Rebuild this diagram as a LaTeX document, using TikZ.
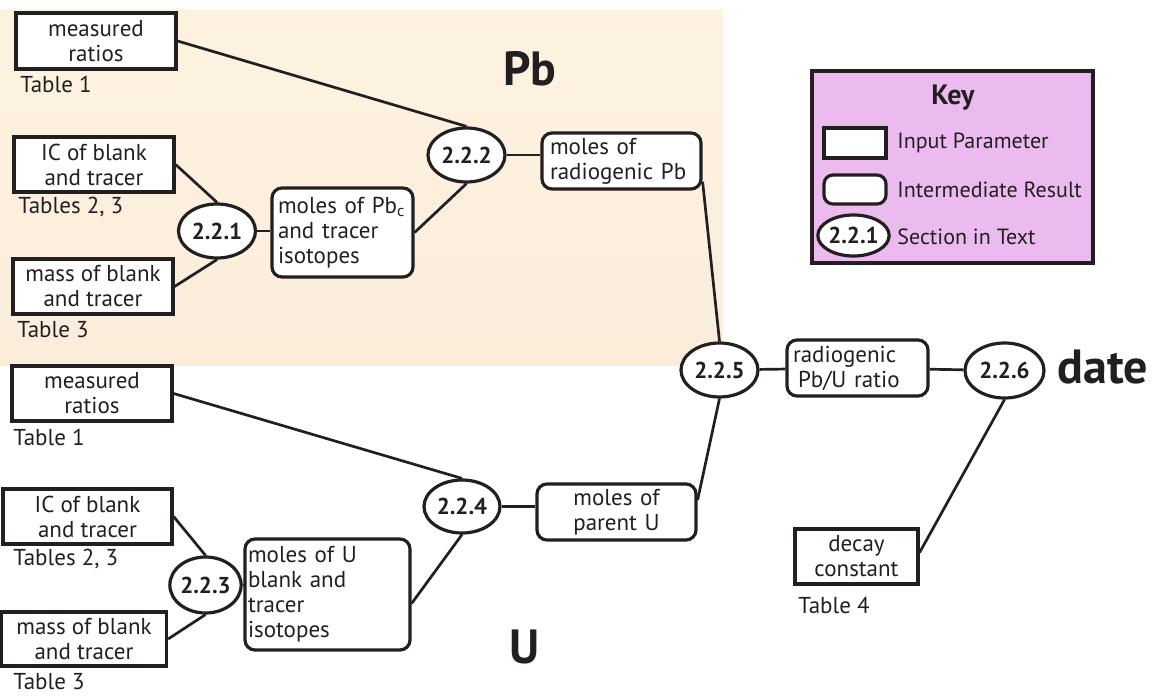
\documentclass[tikz,border=0pt]{standalone}
\usepackage{fontspec}
\setmainfont{PT Sans}
\usetikzlibrary{shapes.geometric,calc}

\definecolor{ink}{RGB}{35,31,32}
\definecolor{pbtop}{RGB}{253,242,224}
\definecolor{pbmid}{RGB}{249,224,215}
\definecolor{pbbot}{RGB}{252,237,219}
\definecolor{keyfill}{RGB}{235,186,239}

\begin{document}
\begin{tikzpicture}[x=0.5pt,y=-0.5pt,
  every node/.style={text=ink, font=\fontsize{11.5}{12.5}\selectfont},
  inbox/.style={draw=ink, line width=1.6pt, fill=white, align=center, inner sep=0pt},
  resbox/.style={draw=ink, line width=1.6pt, fill=white, rounded corners=5pt, inner xsep=3pt, inner ysep=0pt},
  sec/.style={ellipse, draw=ink, line width=1.6pt, fill=white, inner sep=0pt,
              minimum width=38.5pt, minimum height=27pt, font=\fontsize{11.5}{12.5}\selectfont\bfseries},
  tbl/.style={anchor=west, inner sep=0pt},
  keytxt/.style={anchor=west, inner sep=0pt, font=\fontsize{11}{12}\selectfont},
  link/.style={draw=ink, line width=1.35pt},
  big/.style={font=\fontsize{24}{26}\selectfont\bfseries, inner sep=0pt, anchor=base west},
]
\useasboundingbox (0,0) rectangle (1163,696);
\fill[white] (0,0) rectangle (1163,696);

% Pb branch backdrop
\shade[top color=pbtop, middle color=pbmid, bottom color=pbbot] (0,9) rectangle (723,365);

% key panel
\draw[ink, line width=1.6pt, fill=keyfill] (812,71) rectangle (1093,263);
\node[font=\fontsize{14}{16}\selectfont\bfseries] (keytitle) at (953,98) {Key};
\node[inbox, minimum width=31pt, minimum height=15pt] (kinp) at (855,143) {};
\node[resbox, rounded corners=4.5pt, minimum width=31pt, minimum height=14.5pt] (kres) at (855,189.5) {};
\node[sec, minimum width=30.5pt, minimum height=20.5pt] (ksec) at (853.5,235.5) {2.2.1};
\node[keytxt] (kinpl) at (897,143) {Input Parameter};
\node[keytxt] (kresl) at (897,190) {Intermediate Result};
\node[keytxt] (ksecl) at (897,237) {Section in Text};

% ---- Pb branch ----
\node[big] (pblabel) at (503,85) {Pb};
\node[inbox, minimum width=80pt, minimum height=28pt] (mr1) at (96,41) {measured\\ratios};
\node[tbl] (t1a) at (20,84) {Table 1};
\node[inbox, minimum width=80pt, minimum height=27.5pt] (ic1) at (94,164.5) {IC of blank\\and tracer};
\node[tbl] (t23a) at (18,207) {Tables 2, 3};
\node[inbox, minimum width=80pt, minimum height=27.5pt] (ms1) at (93,286.5) {mass of blank\\and tracer};
\node[tbl] (t3a) at (17,330) {Table 3};
\node[sec] (s221) at (217,231) {2.2.1};
\node[resbox, text width=64.5pt, align=left, minimum height=44.5pt] (pbc) at (342.5,232.5)
  {moles of Pb\textsubscript{c}\\and tracer\\isotopes};
\node[sec] (s222) at (466.5,155) {2.2.2};
\node[resbox, inner xsep=4pt, text width=71.5pt, align=left, minimum height=28pt] (radpb) at (621.5,161)
  {moles of\\radiogenic Pb};

% ---- combination ----
\node[sec] (s225) at (719.5,370) {2.2.5};
\node[resbox, text width=64.5pt, align=left, minimum height=28pt] (rad) at (857.5,368)
  {radiogenic\\\hspace*{2.5pt}Pb/U ratio};
\node[sec, minimum width=39.5pt, minimum height=27.5pt] (s226) at (1004.5,370.5) {2.2.6};
\node[big] (datelabel) at (1057,383) {date};
\node[inbox, minimum width=61.5pt, minimum height=27.5pt] (decay) at (856.5,556.5) {decay\\constant};
\node[tbl] (t4) at (798,605) {Table 4};

% ---- U branch ----
\node[big] (ulabel) at (509,663) {U};
\node[inbox, minimum width=80pt, minimum height=27.5pt] (mr2) at (92,393.5) {measured\\ratios};
\node[tbl] (t1b) at (13,437) {Table 1};
\node[inbox, minimum width=84.5pt, minimum height=27.5pt] (ic2) at (87.5,516.5) {IC of blank\\and tracer};
\node[tbl] (t23b) at (13,559) {Tables 2, 3};
\node[inbox, minimum width=82.5pt, minimum height=27pt] (ms2) at (84,639) {mass of blank\\and tracer};
\node[tbl] (t3b) at (13,682) {Table 3};
\node[sec, minimum width=32.5pt, minimum height=28pt] (s223) at (205.5,585) {2.2.3};
\node[resbox, inner xsep=1.5pt, text width=79.5pt, align=left, minimum height=55.5pt] (mub) at (327.5,594.5)
  {moles of U\\blank and\\tracer\\isotopes};
\node[sec, minimum width=38pt, minimum height=26.5pt] (s224) at (462,506.5) {2.2.4};
\node[resbox, text width=73.5pt, align=center, minimum height=28pt] (paru) at (616.5,512)
  {moles of\\parent U};

% ---- connectors ----
\draw[link] (mr1.east) -- (s222.north);
\draw[link] (ic1.east) -- (s221.north);
\draw[link] (ms1.east) -- (s221.south);
\draw[link] (s221.east) -- (s221.east -| pbc.west);
\draw[link] (pbc.east) -- (s222.south);
\draw[link] (s222.east) -- (s222.east -| radpb.west);
\draw[link] ($(radpb.south east)+(0,-9)$) -- (s225.north);
\draw[link] (s225) -- (rad);
\draw[link] (rad) -- (s226);
\draw[link] ($(decay.east)+(0,-4)$) -- (s226.south);
\draw[link] ($(paru.east)+(0,-12)$) -- (s225.south);
\draw[link] (s224.east) -- (s224.east -| paru.west);
\draw[link] (mr2.east) -- (s224.north);
\draw[link] ($(mub.east)+(0,9)$) -- (s224.south);
\draw[link] (ic2.east) -- (s223.north);
\draw[link] (ms2.east) -- (s223.south);
\draw[link] (s223.east) -- (s223.east -| mub.west);
\end{tikzpicture}
\end{document}
